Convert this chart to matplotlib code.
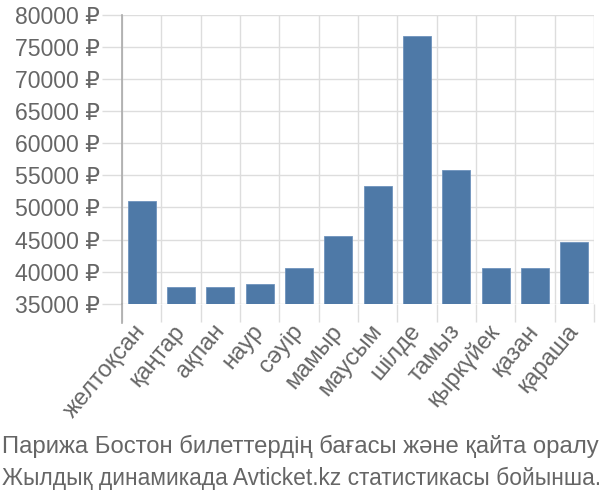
import matplotlib
matplotlib.use("Agg")
import matplotlib.pyplot as plt

months = ['желтоқсан', 'қаңтар', 'ақпан', 'наур', 'сәуір', 'мамыр',
          'маусым', 'шілде', 'тамыз', 'қыркүйек', 'қазан', 'қараша']
prices = [51000, 37700, 37700, 38100, 40600, 45500,
          53400, 76700, 55800, 40600, 40600, 44700]
yticks = list(range(35000, 80001, 5000))

plt.rcParams['font.family'] = ['Liberation Sans', 'DejaVu Sans']

fig = plt.figure(figsize=(6, 5), dpi=100)
ax = fig.add_axes([122 / 600, 196 / 500, 472 / 600, 289.5 / 500])

x = list(range(len(months)))
ax.bar(x, prices, width=0.72, color='#4e79a7', edgecolor='#6f93bd', linewidth=0.6, zorder=3)

ax.set_xlim(-0.5, len(months) - 0.5)
ax.set_ylim(35000, 80000)

# y axis: ticks 20px long, labels in grey
ax.set_yticks(yticks)
ax.set_yticklabels([f'{v} ₽' for v in yticks], fontsize=16.6, color='#666666')
ax.tick_params(axis='y', length=14.4, color='#dddddd', width=1, pad=1.5)

# x axis: labels at centres, tick marks at category borders
ax.set_xticks(x)
ax.set_xticklabels(months, rotation=50, ha='right', va='center', rotation_mode='anchor',
                   fontsize=17, color='#666666')
ax.tick_params(axis='x', which='major', length=0, pad=17)
ax.set_xticks([i - 0.5 for i in range(len(months) + 1)], minor=True)
ax.tick_params(axis='x', which='minor', length=13, color='#dddddd', width=1)

ax.grid(axis='y', color='#dddddd', linewidth=1, zorder=0)
ax.grid(axis='x', which='minor', color='#dddddd', linewidth=1, zorder=0)

for s in ['top', 'right', 'bottom']:
    ax.spines[s].set_visible(False)
ax.spines['left'].set_color('#aaaaaa')
ax.spines['left'].set_linewidth(1.2)
ax.plot([-0.5, -0.5], [0, -0.065], transform=ax.get_xaxis_transform(),
        clip_on=False, color='#aaaaaa', linewidth=1.2, zorder=4)

fig.text(0.003, 0.108, 'Парижа Бостон билеттердің бағасы және қайта оралу',
         fontsize=17.2, color='#666666', va='center')
fig.text(0.003, 0.044, 'Жылдық динамикада Avticket.kz статистикасы бойынша.',
         fontsize=16.4, color='#666666', va='center')

fig.savefig('out.png', dpi=100)
